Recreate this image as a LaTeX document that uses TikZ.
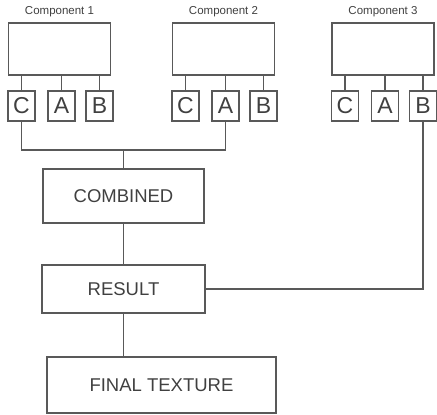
\documentclass[tikz,border=0pt]{standalone}
\usepackage{fontspec}
\setmainfont{Liberation Sans}
\usetikzlibrary{positioning}
\definecolor{linegray}{gray}{0.35}
\definecolor{textgray}{gray}{0.25}
\tikzset{
  every node/.style = {text=textgray},                 % grey text everywhere
  wire/.style       = {draw=linegray, line width=1.4pt},
  compbox/.style    = {rectangle, draw=linegray, line width=1.3pt,
                       minimum width=102pt, minimum height=52pt, inner sep=0pt},
  portbox/.style    = {rectangle, draw=linegray, line width=1.3pt,
                       minimum width=27pt, minimum height=30pt, inner sep=0pt,
                       font=\fontsize{23}{26}\selectfont},
  stagebox/.style   = {rectangle, draw=linegray, line width=1.3pt, inner sep=0pt,
                       font=\fontsize{18.5}{22}\selectfont},
  complabel/.style  = {font=\fontsize{11.5}{13}\selectfont}
}

\begin{document}
\begin{tikzpicture}[x=1pt, y=-1pt]
  \useasboundingbox (0,0) rectangle (437,415);
  % the three components with their C, A, B outputs
  \foreach \cx/\n in {59.5/1, 223.5/2, 383/3} {
    \node[compbox] (box\n) at (\cx,49) {};
    \node[complabel] (lab\n) at (\cx,12) {Component \n};
    \node[portbox] (C\n) at (\cx-38,106) {C};
    \node[portbox] (A\n) at (\cx+2,106) {A};
    \node[portbox] (B\n) at (\cx+40,106) {B};
    \draw[wire] (C\n.north) -- (C\n.north |- box\n.south);
    \draw[wire] (A\n.north) -- (A\n.north |- box\n.south);
    \draw[wire] (B\n.north) -- (B\n.north |- box\n.south);
  }
  % stages
  \node[stagebox, minimum width=161pt, minimum height=54pt] (comb) at (123.5,196) {COMBINED};
  \node[stagebox, minimum width=163pt, minimum height=48pt] (res) at (123.5,289) {RESULT};
  \node[stagebox, minimum width=229pt, minimum height=56pt] (fin) at (161.5,385) {FINAL TEXTURE};
  \coordinate (jn) at (123.5,150);
  % connectors
  \draw[wire] (C1.south) |- (jn) -| (A2.south);
  \draw[wire] (jn) -- (comb.north);
  \draw[wire] (comb.south) -- (res.north);
  \draw[wire] (res.south) -- (res.south |- fin.north);
  \draw[wire] (B3.south) |- (res.east);
\end{tikzpicture}
\end{document}
